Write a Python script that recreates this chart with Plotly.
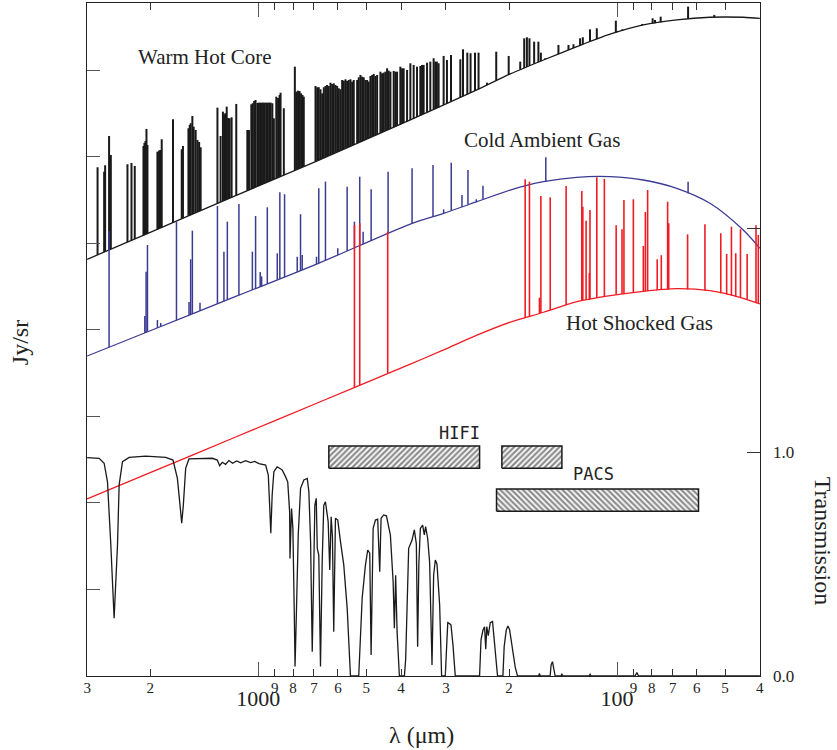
import numpy as np
import plotly.graph_objects as go

# ---------------- axis ticks ----------------
minor_vals = [3000, 2000, 900, 800, 700, 600, 500, 400, 300, 200, 90, 80, 70, 60, 50, 40]
minor_text = ["3", "2", "9", "8", "7", "6", "5", "4", "3", "2", "9", "8", "7", "6", "5", "4"]
major_vals = [1000, 100]
major_text = ["1000", "100"]

# ---------------- continua (wavelength um, intensity arb.) ----------------
warm_lam = [3000, 1994, 1170, 685, 377, 246, 198.5, 160.4, 129.5, 104.6, 84.5, 68.2, 55.1, 44.5, 40]
warm_I = [4.817, 5.131, 5.545, 5.956, 6.428, 6.775, 6.960, 7.121, 7.275, 7.419, 7.526, 7.584, 7.615, 7.615, 7.603]

cold_lam = [3000, 1994, 1170, 685, 377, 304.5, 245.8, 198.5, 160.4, 129.5, 104.6, 84.5, 68.2, 55.1, 44.5, 40]
cold_I = [3.699, 3.994, 4.379, 4.765, 5.225, 5.349, 5.483, 5.618, 5.714, 5.765, 5.772, 5.734, 5.638, 5.465, 5.156, 4.945]

hot_lam = [3000, 1994, 1170, 685, 377, 304.5, 245.8, 198.5, 160.4, 129.5, 104.6, 84.5, 68.2, 55.1, 44.5, 40]
hot_I = [2.046, 2.353, 2.754, 3.156, 3.605, 3.770, 3.940, 4.090, 4.205, 4.327, 4.397, 4.447, 4.477, 4.454, 4.366, 4.301]

# ---------------- emission lines (wavelength, peak intensity) ----------------
warm_line_lam = [2806, 2690, 2673, 2606, 2577, 2316, 2257, 2210, 2090, 2077,
                 2063, 2050, 2037, 1911, 1891, 1877, 1859, 1729, 1635, 1622,
                 1566, 1553, 1544, 1527, 1514, 1495, 1478, 1462, 1448, 1300,
                 1274, 1255, 1245, 1237, 1225, 1214, 1202, 1187, 1152, 1073,
                 1062, 1046, 1037, 1027, 1018, 1006, 998, 989, 979, 970,
                 961, 951, 942, 933, 924, 914, 905, 891, 881, 872.5,
                 867, 849, 791, 784, 775, 767.6, 760, 753, 747, 692.8,
                 685.3, 678.4, 671.0, 663.7, 656.9, 649.9, 643.3, 636.2, 629.3, 622.5,
                 616.1, 609.5, 603.0, 596.7, 590.3, 583.9, 577.9, 571.6, 565.5, 559.7,
                 553.6, 547.6, 542.0, 530.3, 524.9, 519.3, 513.6, 508.4, 502.9, 497.4,
                 492.4, 487.0, 481.7, 476.8, 471.7, 466.5, 456.7, 451.8, 447.2, 442.4,
                 437.6, 433.1, 428.4, 419.4, 414.9, 410.5, 401.9, 397.5, 393.4, 384.9,
                 376.9, 369.0, 361.1, 353.5, 349.7, 346.1, 338.6, 331.6, 324.6, 321.1,
                 317.9, 314.4, 304.4, 298.0, 290.4, 273.5, 268.8, 261.5, 256.1, 248.9,
                 243.3, 230.5, 217.2, 200.5, 186.2, 181.5, 178.4, 175.5, 170.3, 165.7,
                 163.1, 158.7, 145.7, 136.6, 132.3, 126.8, 124.6, 119.0, 113.9, 100.8,
                 99.7, 96.7, 85.1, 79.6, 78.4, 75.6, 67.1, 63.4, 53.6]
warm_line_peak = [5.881, 5.830, 5.904, 6.243, 6.023, 5.916, 5.931, 5.896, 6.127, 6.162,
                  6.185, 6.324, 6.139, 6.061, 6.073, 6.081, 6.205, 6.436, 6.089, 6.127,
                  6.332, 6.370, 6.390, 6.474, 6.350, 6.312, 6.197, 6.173, 6.112, 6.570,
                  6.243, 6.524, 6.486, 6.505, 6.582, 6.451, 6.447, 6.459, 6.613, 6.312,
                  6.312, 6.609, 6.621, 6.647, 6.659, 6.624, 6.628, 6.628, 6.628, 6.628,
                  6.628, 6.628, 6.628, 6.628, 6.628, 6.621, 6.447, 6.697, 6.682, 6.717,
                  6.743, 6.563, 7.044, 6.755, 6.766, 6.763, 6.736, 6.717, 6.697, 6.821,
                  6.806, 6.806, 6.783, 6.736, 6.806, 6.821, 6.832, 6.821, 6.859, 6.844,
                  6.852, 6.832, 6.821, 6.794, 6.783, 6.890, 6.882, 6.898, 6.879, 6.890,
                  6.898, 6.871, 6.890, 6.890, 6.921, 6.948, 6.928, 6.921, 6.890, 6.890,
                  6.871, 6.936, 6.948, 6.960, 6.936, 6.948, 6.986, 6.967, 6.975, 6.986,
                  7.025, 6.998, 6.986, 6.994, 6.986, 6.986, 7.044, 7.025, 7.025, 7.006,
                  7.083, 7.064, 7.044, 7.052, 7.064, 7.064, 7.090, 7.102, 7.141, 7.102,
                  7.102, 7.083, 7.168, 7.121, 7.179, 7.129, 7.245, 7.206, 7.199, 7.206,
                  7.206, 6.859, 7.217, 7.168, 7.102, 7.372, 7.384, 7.372, 7.333, 7.333,
                  7.206, 7.141, 7.295, 7.295, 7.303, 7.372, 7.384, 7.476, 7.488, 7.576,
                  7.457, 7.476, 7.538, 7.603, 7.584, 7.622, 7.592, 7.738, 7.642]

cold_line_lam = [2606, 2072, 2055, 2037, 1911, 1871, 1691, 1560, 1544, 1527,
                 1454, 1300, 1247, 1220, 1132.6, 1039, 1017.7, 988, 979, 944,
                 885.5, 871, 845, 779, 762.7, 754.5, 688.3, 678.4, 649.9, 600.5,
                 565.5, 539.6, 521.6, 510.3, 484.8, 434.8, 372.8, 325.9, 304.4, 289.9,
                 270.6, 260.4, 246.9, 236.5, 158.0, 63.4]
cold_line_peak = [5.145, 4.162, 4.674, 4.983, 4.116, 4.081, 5.252, 4.324, 4.817, 5.148,
                  4.316, 5.434, 4.905, 5.252, 5.457, 4.905, 5.318, 4.67, 4.62, 5.418,
                  4.887, 5.592, 5.569, 4.847, 5.338, 4.867, 4.847, 5.638, 5.715, 4.945,
                  5.657, 5.252, 5.772, 5.137, 5.627, 5.830, 5.869, 5.908, 5.395, 5.934,
                  5.561, 5.850, 5.511, 5.668, 5.997, 5.715]

hot_line_lam = [539.6, 521.6, 435.9, 180.4, 175.5, 164.6, 163.1, 153.6, 138.7, 125.4,
                124.6, 122.0, 119.5, 119.0, 113.9, 108.5, 100.6, 96.9, 95.7, 90.1,
                84.5, 83.4, 82.2, 77.3, 75.3, 72.3, 71.8, 63.6, 56.9, 51.4,
                49.5, 48.0, 46.7, 45.3, 43.4, 41.0, 40.4]
hot_line_peak = [5.214, 5.234, 5.137, 5.742, 5.715, 4.373, 5.549, 5.534, 5.665, 5.607,
                 5.425, 5.264, 4.659, 5.387, 5.765, 5.746, 5.210, 5.164, 5.503, 5.511,
                 4.971, 5.364, 5.618, 4.817, 4.864, 5.483, 5.234, 5.106, 5.222, 5.118,
                 4.879, 5.194, 4.887, 5.164, 4.879, 5.210, 5.098]

# ---------------- atmospheric transmission ----------------
trans_lam = [3000, 2778, 2690, 2633, 2577, 2523, 2469, 2443, 2391, 2292, 2059, 1812, 1729, 1681, 1653,
             1635, 1618, 1594, 1561, 1343, 1301, 1282, 1260, 1234, 1208, 1179, 1149, 1120, 1085, 1051,
             1024, 996, 954, 938, 930, 923, 915, 905, 886, 858, 840, 828, 818, 816, 808,
             801, 794, 790, 783, 774, 762.5, 746.5, 730.5, 723, 715, 707.5, 701.5, 695.7, 689.5, 685,
             678.3, 671, 663.7, 657, 650, 638.7, 632.3, 626.6, 621.4, 616.3, 609.5, 600.6, 590.2, 577.9, 565.3,
             553.6, 525, 513.5, 502.8, 495.5, 489.1, 484.9, 478.6, 471.6, 464.8, 458.8, 454.8, 447.3, 439.5, 433.1,
             428.4, 421.0, 417.6, 414.2, 410.4, 404.4, 391.6, 388.4, 381.0, 372.8, 367.4, 362.7, 359.7, 356.9, 353.5,
             348.3, 344.6, 341.7, 337.3, 333.1, 328.0, 324.6, 321.1, 317.7, 312.3, 308.4, 301.2, 297.9, 296.4, 294.1,
             290.4, 286.7, 282.5, 241.7, 239.5, 236.5, 234.1, 232.3, 230.8, 228.6, 225.7, 222.4, 220.0, 217.2, 215.4,
             208.1, 206.4, 203.7, 201.5, 199.4, 196.4, 194.4, 192.3, 189.5, 165.4, 164.6, 163.8, 153.7, 152.7, 151.4,
             150.3, 148.8, 143.2, 142.6, 141.8, 119.7, 118.9, 118.1, 89.1, 88.1, 87.1, 40]
trans_T = [0.975, 0.972, 0.95, 0.867, 0.585, 0.258, 0.585, 0.853, 0.957, 0.976, 0.982, 0.976, 0.964, 0.882, 0.763,
           0.682, 0.763, 0.927, 0.969, 0.972, 0.964, 0.939, 0.954, 0.945, 0.962, 0.95, 0.96, 0.952, 0.961, 0.953,
           0.958, 0.948, 0.942, 0.897, 0.763, 0.637, 0.808, 0.912, 0.934, 0.92, 0.89, 0.867, 0.733, 0.525, 0.748,
           0.659, 0.287, 0.042, 0.287, 0.63, 0.838, 0.875, 0.882, 0.823, 0.6, 0.108, 0.43, 0.763, 0.793, 0.57,
           0.54, 0.042, 0.51, 0.763, 0.778, 0.689, 0.473, 0.711, 0.62, 0.198, 0.704, 0.696, 0.6, 0.496, 0.302,
           0.0, 0.0, 0.347, 0.496, 0.5625, 0.548, 0.094, 0.659, 0.696, 0.7, 0.466, 0.704, 0.719, 0.715, 0.659,
           0.629, 0.421, 0.213, 0.45, 0.198, 0.0, 0.0, 0.075, 0.57, 0.607, 0.652, 0.59, 0.131, 0.5, 0.659,
           0.674, 0.63, 0.667, 0.615, 0.51, 0.049, 0.45, 0.518, 0.5, 0.317, 0.0, 0.0, 0.168, 0.238, 0.235,
           0.228, 0.138, 0.0, 0.0, 0.161, 0.205, 0.22, 0.12, 0.22, 0.18, 0.238, 0.243, 0.161, 0.04, 0.0,
           0.0, 0.131, 0.205, 0.223, 0.208, 0.131, 0.1, 0.04, 0.0, 0.0, 0.012, 0.0, 0.0, 0.05, 0.064,
           0.03, 0.0, 0.0, 0.01, 0.0, 0.0, 0.008, 0.0, 0.0, 0.015, 0.0, 0.0]

# ---------------- instrument coverage (wavelength ranges, transmission-axis levels) ----------------
hifi_bands = [(636, 241.7), (209.5, 142.5)]
hifi_level = (0.927, 1.027)
pacs_bands = [(216.8, 59.3)]
pacs_level = (0.735, 0.835)

BLACK = "#1a1a1a"
BLUE = "#3b3b94"
RED = "#f01c24"


def base_at(lams, cont_lam, cont_I):
    lx = np.log10(np.array(cont_lam, dtype=float))[::-1]
    ly = np.array(cont_I, dtype=float)[::-1]
    return np.interp(np.log10(np.array(lams, dtype=float)), lx, ly)


def spikes(lams, peaks, cont_lam, cont_I):
    bases = base_at(lams, cont_lam, cont_I)
    xs, ys = [], []
    for l, p, b in zip(lams, peaks, bases):
        xs += [l, l, None]
        ys += [b, p, None]
    return xs, ys


fig = go.Figure()

for lam_l, pk, c_lam, c_I, col, w in [
    (warm_line_lam, warm_line_peak, warm_lam, warm_I, BLACK, 2.0),
    (cold_line_lam, cold_line_peak, cold_lam, cold_I, BLUE, 1.5),
    (hot_line_lam, hot_line_peak, hot_lam, hot_I, RED, 1.6),
]:
    sx, sy = spikes(lam_l, pk, c_lam, c_I)
    fig.add_trace(go.Scatter(x=sx, y=sy, mode="lines", line=dict(color=col, width=w),
                             hoverinfo="skip", xaxis="x", yaxis="y"))
    fig.add_trace(go.Scatter(x=c_lam, y=c_I, mode="lines",
                             line=dict(color=col, width=1.3, shape="spline", smoothing=0.8),
                             hoverinfo="skip", xaxis="x", yaxis="y"))

fig.add_trace(go.Scatter(x=trans_lam, y=trans_T, mode="lines",
                         line=dict(color=BLACK, width=1.3), xaxis="x", yaxis="y2"))


def rect(band, level):
    x0, x1 = band
    y0, y1 = level
    return [x0, x1, x1, x0, x0], [y0, y0, y1, y1, y0]


for bands, level, shape in [(hifi_bands, hifi_level, "/"), (pacs_bands, pacs_level, "\\")]:
    for band in bands:
        rx, ry = rect(band, level)
        fig.add_trace(go.Scatter(x=rx, y=ry, mode="lines", fill="toself",
                                 fillcolor="white",
                                 fillpattern=dict(shape=shape, fgcolor="#1a1a1a", bgcolor="white",
                                                  size=4, solidity=0.55),
                                 line=dict(color="#1a1a1a", width=1.5), xaxis="x2", yaxis="y2"))

xr = [np.log10(3000) + 0.0004, np.log10(40) - 0.0004]
SERIF = "Liberation Serif"

fig.update_layout(
    width=837, height=750,
    margin=dict(l=87, r=77, t=3, b=74),
    plot_bgcolor="white", paper_bgcolor="white",
    showlegend=False,
    font=dict(family=SERIF, color="#222"),
    xaxis=dict(type="log", range=xr, tickmode="array", tickvals=minor_vals, ticktext=minor_text,
               ticks="inside", ticklen=7, tickwidth=1, tickcolor="#333",
               showline=True, linecolor="#222", linewidth=1.2, mirror="ticks",
               showgrid=False, zeroline=False, tickfont=dict(size=15, family=SERIF),
               ticklabelstandoff=-2),
    xaxis2=dict(type="log", range=xr, overlaying="x", side="bottom", anchor="y",
                tickmode="array", tickvals=major_vals, ticktext=major_text,
                ticks="inside", ticklen=14, tickwidth=1.2, tickcolor="#555",
                showline=False, mirror="ticks", showgrid=False, zeroline=False,
                tickfont=dict(size=22, family=SERIF), ticklabelstandoff=7),
    yaxis=dict(range=[0, 7.78], tickmode="array", tickvals=[1, 2, 3, 4, 5, 6, 7],
               ticks="inside", ticklen=13, tickwidth=1.2, tickcolor="#555",
               showticklabels=False, showline=True, linecolor="#222", linewidth=1.2,
               mirror=True, showgrid=False, zeroline=False),
    yaxis2=dict(range=[0, 3.0045], overlaying="y", side="right", anchor="x",
                tickmode="array", tickvals=[0, 1, 2], ticktext=["0.0", "1.0", ""],
                ticks="inside", ticklen=13, tickwidth=1.2, tickcolor="#333",
                showline=False, showgrid=False, zeroline=False,
                tickfont=dict(size=17, family=SERIF), ticklabelstandoff=12),
)

ann = [
    dict(text="Warm Hot Core", x=0.176, y=0.920, size=21, family=SERIF, angle=0),
    dict(text="Cold Ambient Gas", x=0.676, y=0.796, size=21, family=SERIF, angle=0),
    dict(text="Hot Shocked Gas", x=0.821, y=0.524, size=21, family=SERIF, angle=0),
    dict(text="HIFI", x=0.554, y=0.3615, size=17, family="DejaVu Sans Mono", angle=0),
    dict(text="PACS", x=0.752, y=0.300, size=17, family="DejaVu Sans Mono", angle=0),
    dict(text="Jy/sr", x=-0.0996, y=0.496, size=24, family=SERIF, angle=-90),
    dict(text="Transmission", x=1.094, y=0.2006, size=24, family=SERIF, angle=90),
    dict(text="λ (μm)", x=0.4963, y=-0.0877, size=24, family=SERIF, angle=0),
]
for a in ann:
    fig.add_annotation(text=a["text"], x=a["x"], y=a["y"], xref="paper", yref="paper",
                       xanchor="center", yanchor="middle", showarrow=False,
                       textangle=a["angle"], font=dict(size=a["size"], family=a["family"], color="#222"))

fig.write_html("out.html", config={"displayModeBar": False},
               post_script="document.body.style.margin='0px';document.body.style.overflow='hidden';")
